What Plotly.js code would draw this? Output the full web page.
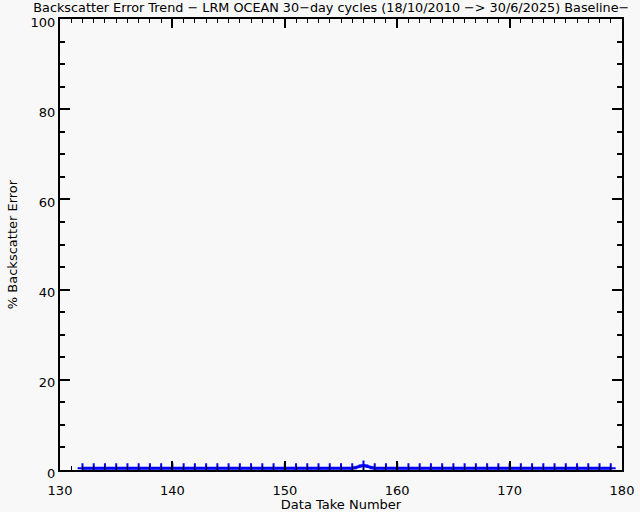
<!DOCTYPE html>
<html>
<head>
<meta charset="utf-8">
<script src="https://cdn.plot.ly/plotly-3.0.1.min.js"></script>
<style>html,body{margin:0;padding:0;background:#f8f8f8;}#chart{width:640px;height:512px;}</style>
</head>
<body>
<div id="chart"></div>
<script>
const dataTakes = [132,133,134,135,136,137,138,139,140,141,142,143,144,145,146,147,148,149,150,151,152,153,154,155,156,157,158,159,160,161,162,163,164,165,166,167,168,169,170,171,172,173,174,175,176,177,178,179];
const backscatterError = [0.4,0.4,0.4,0.4,0.4,0.4,0.4,0.4,0.4,0.4,0.4,0.4,0.4,0.4,0.4,0.4,0.4,0.4,0.4,0.4,0.4,0.4,0.4,0.4,0.4,1.0,0.4,0.4,0.4,0.4,0.4,0.4,0.4,0.4,0.4,0.4,0.4,0.4,0.4,0.4,0.4,0.4,0.4,0.4,0.4,0.4,0.4,0.4];
const titleText = "Backscatter Error Trend \u2212 LRM OCEAN 30\u2212day cycles (18/10/2010 \u2212> 30/6/2025) Baseline\u2212";
const xTitle = "Data Take Number";
const yTitle = "% Backscatter Error";

const font = {family: "DejaVu Sans, sans-serif", size: 13, color: "#000"};
const axisCommon = {
  showline: true, linecolor: "#000", linewidth: 2, mirror: "ticks",
  ticks: "inside", tickcolor: "#000", tickwidth: 2,
  showgrid: false, zeroline: false, tickfont: font
};
Plotly.newPlot("chart", [{
  x: dataTakes, y: backscatterError, type: "scatter", mode: "lines+markers",
  line: {color: "#0000ff", width: 3},
  marker: {symbol: "cross-thin-open", size: 7, color: "#0000ff", line: {color: "#0000ff", width: 2}}
}], {
  width: 640, height: 512,
  paper_bgcolor: "#f8f8f8", plot_bgcolor: "#f8f8f8",
  margin: {l: 60, r: 18, t: 19, b: 42},
  showlegend: false,
  font: font,
  title: {text: titleText, font: {family: "DejaVu Sans, sans-serif", size: 12.8, color: "#000"}, xref: "container", yref: "container", x: 0.052, xanchor: "left", y: 0.985, yanchor: "middle"},
  xaxis: Object.assign({}, axisCommon, {
    range: [130, 180], dtick: 10, tick0: 130, ticklen: 9, ticklabelstandoff: 7,
    minor: {dtick: 1, ticks: "inside", ticklen: 4, tickcolor: "#000", tickwidth: 1},
    title: {text: xTitle, font: font, standoff: 2}
  }),
  yaxis: Object.assign({}, axisCommon, {
    range: [0, 100], dtick: 20, tick0: 0, ticklen: 10, ticklabelshift: 3,
    minor: {dtick: 5, ticks: "inside", ticklen: 5, tickcolor: "#000", tickwidth: 2},
    title: {text: yTitle, font: font, standoff: 10}
  })
}, {staticPlot: true});
</script>
</body>
</html>
